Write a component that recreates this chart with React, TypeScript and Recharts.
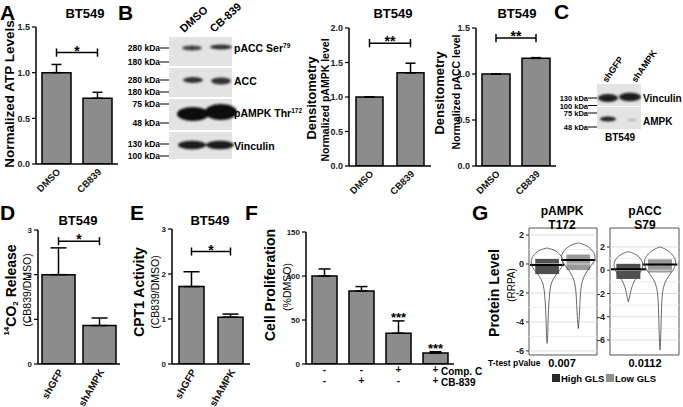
import React from 'react';
import {
  ComposedChart, Bar, XAxis, YAxis, ErrorBar, ReferenceLine, ReferenceArea, ReferenceDot, Scatter,
} from 'recharts';

const FONT = "'Liberation Sans', Arial, Helvetica, sans-serif";

// ---------- Panel A ----------
const aCats = ['DMSO', 'CB839'];
const aMeans = [1.0, 0.72];
const aSem = [0.09, 0.065];
const aTicks = [0, 0.5, 1.0, 1.5];
const aBracket = 1.22;

// ---------- Panel B ----------
const bCats = ['DMSO', 'CB839'];
const bAmpkMeans = [1.0, 1.35];
const bAmpkSem = [0, 0.14];
const bAmpkTicks = [0, 0.5, 1.0, 1.5, 2.0];
const bAmpkBracket = 1.78;
const bAccMeans = [1.0, 1.17];
const bAccSem = [0, 0.008];
const bAccTicks = [0, 0.5, 1.0, 1.5];
const bAccBracket = 1.39;

// ---------- Panel D / E ----------
const deCats = ['shGFP', 'shAMPK'];
const dMeans = [2.0, 0.86];
const dSem = [0.6, 0.17];
const dBracket = 2.75;
const eMeans = [1.72, 1.04];
const eSem = [0.33, 0.07];
const eBracket = 2.5;
const deTicks = [0, 1, 2, 3];

// ---------- Panel F ----------
const fCats = ['g1', 'g2', 'g3', 'g4'];
const fMeans = [100, 83, 35, 12.5];
const fSem = [8, 5, 14, 1.5];
const fCompC = ['-', '-', '+', '+'];
const fCb839 = ['-', '+', '-', '+'];
const fStars = ['', '', '***', '***'];
const fTicks = [0, 50, 100, 150];

// ---------- Panel G ----------
const gMajor = [2, 0, -2, -4, -6];
const gMinor = [1, -1, -3, -5];
// violin outlines: y positions and half widths
const gAmpkHighY = [1.1, 1.0, 0.8, 0.5, 0.2, -0.1, -0.4, -0.7, -1.0, -1.4, -2.0, -2.6, -3.2, -4.0, -5.0, -5.5];
const gAmpkHighW = [0, 0.2, 0.36, 0.47, 0.52, 0.5, 0.42, 0.3, 0.2, 0.12, 0.08, 0.06, 0.045, 0.03, 0.02, 0];
const gAmpkLowY = [1.45, 1.35, 1.1, 0.8, 0.5, 0.2, -0.1, -0.5, -0.9, -1.4, -2.0, -2.8, -3.6, -4.5];
const gAmpkLowW = [0, 0.2, 0.38, 0.5, 0.55, 0.52, 0.42, 0.28, 0.17, 0.1, 0.07, 0.05, 0.035, 0];
const gAccHighY = [1.6, 1.45, 1.2, 0.9, 0.5, 0.2, -0.2, -0.6, -1.0, -1.5, -2.0, -2.4, -2.75];
const gAccHighW = [0, 0.18, 0.32, 0.42, 0.46, 0.45, 0.38, 0.27, 0.17, 0.1, 0.06, 0.03, 0];
const gAccLowY = [2.0, 1.85, 1.6, 1.2, 0.8, 0.4, 0.0, -0.4, -0.8, -1.3, -2.0, -3.0, -4.0, -5.0, -6.0, -6.9];
const gAccLowW = [0, 0.15, 0.3, 0.44, 0.5, 0.49, 0.42, 0.3, 0.2, 0.12, 0.07, 0.05, 0.04, 0.03, 0.02, 0];
// boxes [low, high, median]
const gAmpkHighBox = [-0.7, 0.35, -0.08];
const gAmpkLowBox = [-0.42, 0.65, 0.28];
const gAccHighBox = [-0.75, 0.55, 0.08];
const gAccLowBox = [-0.2, 0.95, 0.5];
const gPvalues = ['0.007', '0.0112'];
const gLegend = ['High GLS', 'Low GLS'];

const rows = (cats: string[], means: number[], sem: number[]) =>
  cats.map((name, i) => ({ name, value: means[i], err: [0, sem[i]] as [number, number] }));

const rotTick = (angle: number, fs: number) => (props: any) => {
  const { x, y, payload } = props;
  const ax = x + 2;
  const ay = y + 4;
  return (
    <text x={ax} y={ay} transform={`rotate(${angle} ${ax} ${ay})`} textAnchor="end" dominantBaseline="central"
      fontSize={fs} fontWeight="bold" fontFamily={FONT} fill="#111">{payload.value}</text>
  );
};

const fTick = (props: any) => {
  const { x, y, index } = props;
  return (
    <g fontFamily={FONT} fontWeight="bold" fontSize={10} fill="#111">
      <text x={x} y={y + 7} textAnchor="middle">{fCompC[index]}</text>
      <text x={x} y={y + 18} textAnchor="middle">{fCb839[index]}</text>
    </g>
  );
};

type BarPanelProps = {
  px: number; py: number; pw: number; ph: number;
  domain: [number, number]; ticks: number[]; fmt: (v: number) => string;
  data: any[]; barSize: number; capW: number; tick: any; xH: number;
  bracket?: { y: number; d: number; a: string; b: string; label: string };
  stars?: string[]; tickFs?: number;
};

function BarPanel(p: BarPanelProps) {
  const yW = 32;
  const mt = 10;
  const mr = 6;
  return (
    <div style={{ position: 'absolute', left: p.px - yW, top: p.py - mt }}>
      <ComposedChart width={yW + p.pw + mr} height={mt + p.ph + p.xH} data={p.data}
        margin={{ top: mt, right: mr, left: 0, bottom: 0 }} barCategoryGap={0}>
        <XAxis dataKey="name" type="category" height={p.xH} interval={0}
          axisLine={{ stroke: '#000', strokeWidth: 1.5 }} tickLine={false} tickSize={0} tick={p.tick} />
        <YAxis width={yW} domain={p.domain} ticks={p.ticks} tickFormatter={p.fmt} interval={0} allowDataOverflow
          axisLine={{ stroke: '#000', strokeWidth: 1.5 }} tickLine={{ stroke: '#000', strokeWidth: 1.2 }} tickSize={4}
          tick={{ fill: '#222', fontSize: p.tickFs || 9, fontWeight: 'bold', fontFamily: FONT }} />
        <Bar dataKey="value" fill="#8c8c8c" stroke="#000" strokeWidth={1.5} barSize={p.barSize} isAnimationActive={false}>
          <ErrorBar dataKey="err" width={p.capW} stroke="#000" strokeWidth={1.5} direction="y" />
        </Bar>
        {p.bracket && (
          <ReferenceLine segment={[{ x: p.bracket.a, y: p.bracket.y }, { x: p.bracket.b, y: p.bracket.y }]}
            stroke="#000" strokeWidth={1.5}
            label={{ value: p.bracket.label, position: 'top', offset: -3, fill: '#000', fontSize: 14, fontWeight: 'bold', fontFamily: FONT }} />
        )}
        {p.bracket && (
          <ReferenceLine segment={[{ x: p.bracket.a, y: p.bracket.y - p.bracket.d }, { x: p.bracket.a, y: p.bracket.y + p.bracket.d }]}
            stroke="#000" strokeWidth={1.5} />
        )}
        {p.bracket && (
          <ReferenceLine segment={[{ x: p.bracket.b, y: p.bracket.y - p.bracket.d }, { x: p.bracket.b, y: p.bracket.y + p.bracket.d }]}
            stroke="#000" strokeWidth={1.5} />
        )}
        {p.stars && p.data.map((r, i) => p.stars![i] ? (
          <ReferenceDot key={r.name} x={r.name} y={r.value + r.err[1]} r={0} stroke="none" fill="none"
            label={{ value: p.stars![i], position: 'top', offset: -1, fill: '#000', fontSize: 13, fontWeight: 'bold', fontFamily: FONT }} />
        ) : null)}
      </ComposedChart>
    </div>
  );
}

const violinPoints = (c: number, ys: number[], ws: number[]) => {
  const right = ys.map((y, i) => ({ x: c + ws[i], y }));
  const left = ys.map((y, i) => ({ x: c - ws[i], y })).reverse();
  return [...right, ...left];
};

type ViolinProps = {
  px: number; py: number; pw: number; ph: number; domain: [number, number];
  hiY: number[]; hiW: number[]; loY: number[]; loW: number[]; hiBox: number[]; loBox: number[];
};

const X_DOM: [number, number] = [0.42, 2.6];

function ViolinPanel(p: ViolinProps) {
  const yW = 16;
  const mt = 4;
  const bh = 0.38;
  const mh = 0.55;
  return (
    <div style={{ position: 'absolute', left: p.px - yW, top: p.py - mt }}>
      <ComposedChart width={yW + p.pw + 2} height={p.ph + mt * 2} margin={{ top: mt, right: 2, left: 0, bottom: mt }}>
        <XAxis type="number" dataKey="x" domain={X_DOM} hide allowDataOverflow />
        <YAxis type="number" dataKey="y" domain={p.domain} ticks={gMajor} interval={0} width={yW} allowDataOverflow
          axisLine={false} tickLine={{ stroke: '#333' }} tickSize={3}
          tick={{ fill: '#222', fontSize: 9, fontWeight: 'bold', fontFamily: FONT }} />
        {gMinor.map((v) => <ReferenceLine key={'mi' + v} y={v} stroke="#eeeeee" strokeWidth={1} />)}
        {gMajor.map((v) => <ReferenceLine key={'ma' + v} y={v} stroke="#dddddd" strokeWidth={1} />)}
        <ReferenceArea x1={X_DOM[0]} x2={X_DOM[1]} y1={p.domain[0]} y2={p.domain[1]} fill="none" stroke="#555" strokeWidth={1} fillOpacity={0} />
        <Scatter data={violinPoints(1, p.hiY, p.hiW)} line={{ stroke: '#444', strokeWidth: 0.8 }} lineJointType="basis"
          shape={() => <g />} isAnimationActive={false} legendType="none" />
        <Scatter data={violinPoints(2, p.loY, p.loW)} line={{ stroke: '#444', strokeWidth: 0.8 }} lineJointType="basis"
          shape={() => <g />} isAnimationActive={false} legendType="none" />
        <ReferenceArea x1={1 - bh} x2={1 + bh} y1={p.hiBox[0]} y2={p.hiBox[1]} fill="#3c3c3c" fillOpacity={0.9} stroke="none" />
        <ReferenceArea x1={2 - bh} x2={2 + bh} y1={p.loBox[0]} y2={p.loBox[1]} fill="#8e8e8e" fillOpacity={0.9} stroke="none" />
        <ReferenceLine segment={[{ x: 1 - mh, y: p.hiBox[2] }, { x: 1 + mh, y: p.hiBox[2] }]} stroke="#000" strokeWidth={2} />
        <ReferenceLine segment={[{ x: 2 - mh, y: p.loBox[2] }, { x: 2 + mh, y: p.loBox[2] }]} stroke="#000" strokeWidth={2} />
      </ComposedChart>
    </div>
  );
}

const VLabel = ({ cx, cy, fs, w = 'bold', children }: any) => (
  <text transform={`translate(${cx},${cy}) rotate(-90)`} textAnchor="middle" dominantBaseline="central"
    fontSize={fs} fontWeight={w} fontFamily={FONT} fill="#000">{children}</text>
);

const L = ({ x, y, fs = 9, w = 'bold', a = 'start', fill = '#000', children, rot }: any) => (
  <text x={x} y={y} fontSize={fs} fontWeight={w} textAnchor={a} fontFamily={FONT} fill={fill}
    transform={rot !== undefined ? `rotate(${rot} ${x} ${y})` : undefined}>{children}</text>
);

const Kda = ({ x, y, t, fs = 8.5 }: any) => (
  <g>
    <L x={x - 9} y={y + 3} fs={fs} a="end">{t}</L>
    <line x1={x - 9} y1={y} x2={x} y2={y} stroke="#000" strokeWidth={1} />
  </g>
);

function Overlay() {
  return (
    <svg width={683} height={407} style={{ position: 'absolute', left: 0, top: 0, pointerEvents: 'none' }}>
      <defs>
        <filter id="bl" x="-50%" y="-50%" width="200%" height="200%"><feGaussianBlur stdDeviation="1.1" /></filter>
      </defs>
      {/* panel letters */}
      <L x={0} y={20} fs={21}>A</L>
      <L x={118} y={20} fs={21}>B</L>
      <L x={554} y={19} fs={21}>C</L>
      <L x={0} y={220} fs={21}>D</L>
      <L x={130} y={220} fs={21}>E</L>
      <L x={245} y={220} fs={21}>F</L>
      <L x={472} y={220} fs={21}>G</L>
      {/* titles */}
      <L x={85} y={18} fs={13} a="middle">BT549</L>
      <L x={393} y={18} fs={13} a="middle">BT549</L>
      <L x={517} y={18} fs={13} a="middle">BT549</L>
      <L x={78} y={225} fs={13} a="middle">BT549</L>
      <L x={210} y={225} fs={13} a="middle">BT549</L>
      {/* y labels */}
      <VLabel cx={9} cy={94} fs={13.5}>Normalized ATP Levels</VLabel>
      <VLabel cx={311} cy={98} fs={13}>Densitometry</VLabel>
      <VLabel cx={325} cy={100} fs={10.5}>Normalized pAMPK level</VLabel>
      <VLabel cx={439} cy={93} fs={13}>Densitometry</VLabel>
      <VLabel cx={456} cy={92} fs={10.5}>Normalized pACC level</VLabel>
      <text transform="translate(11,290) rotate(-90)" textAnchor="middle" dominantBaseline="central" fontFamily={FONT} fontWeight="bold" fontSize={14}>
        <tspan fontSize={8} dy={-5}>14</tspan><tspan dy={5}>CO</tspan><tspan fontSize={8} dy={4}>2</tspan><tspan dy={-4}> Release</tspan>
      </text>
      <VLabel cx={27} cy={290} fs={10.5} w="normal">(CB839/DMSO)</VLabel>
      <VLabel cx={139} cy={292} fs={14}>CPT1 Activity</VLabel>
      <VLabel cx={155} cy={292} fs={10.5} w="normal">(CB839/DMSO)</VLabel>
      <VLabel cx={270} cy={285} fs={14}>Cell Proliferation</VLabel>
      <VLabel cx={287} cy={287} fs={10.5} w="normal">(%DMSO)</VLabel>
      <VLabel cx={494} cy={293} fs={14}>Protein Level</VLabel>
      <VLabel cx={511} cy={285} fs={10} w="normal">(RRPA)</VLabel>

      {/* B blot */}
      <L x={184} y={33} fs={11} rot={-42}>DMSO</L>
      <L x={214} y={33} fs={11} rot={-42}>CB-839</L>
      <rect x={169} y={37} width={63} height={29} fill="#e3e3e3" />
      <rect x={169} y={68} width={63} height={29} fill="#e3e3e3" />
      <rect x={169} y={99} width={63} height={31} fill="#e3e3e3" />
      <rect x={169} y={132} width={63} height={27} fill="#e3e3e3" />
      <g filter="url(#bl)">
        <ellipse cx={192} cy={48} rx={10} ry={2.4} fill="#444" />
        <ellipse cx={221} cy={47} rx={11} ry={2.6} fill="#333" />
        <ellipse cx={193} cy={80} rx={10} ry={3} fill="#333" />
        <ellipse cx={221} cy={81} rx={10} ry={3.4} fill="#333" />
        <ellipse cx={193} cy={114} rx={16} ry={7} fill="#111" />
        <ellipse cx={221} cy={112} rx={16} ry={8} fill="#111" />
        <ellipse cx={192} cy={145} rx={14} ry={4.2} fill="#1a1a1a" />
        <ellipse cx={220} cy={145} rx={14} ry={4.2} fill="#1a1a1a" />
      </g>
      <Kda x={169} y={48} t="280 kDa" />
      <Kda x={169} y={62} t="180 kDa" />
      <Kda x={169} y={80} t="280 kDa" />
      <Kda x={169} y={92} t="180 kDa" />
      <Kda x={169} y={104} t="75 kDa" />
      <Kda x={169} y={123} t="48 kDa" />
      <Kda x={169} y={144} t="130 kDa" />
      <Kda x={169} y={156} t="100 kDa" />
      <text x={234} y={52} fontFamily={FONT} fontWeight="bold" fontSize={10.5}>pACC Ser<tspan fontSize={6.5} dy={-4}>79</tspan></text>
      <L x={234} y={85} fs={10.5}>ACC</L>
      <text x={234} y={117} fontFamily={FONT} fontWeight="bold" fontSize={10.5}>pAMPK Thr<tspan fontSize={6.5} dy={-4}>172</tspan></text>
      <L x={234} y={150} fs={10.5}>Vinculin</L>

      {/* C blot */}
      <L x={607} y={83} fs={9} rot={-55}>shGFP</L>
      <L x={636} y={83} fs={9} rot={-55}>shAMPK</L>
      <rect x={597} y={84} width={44} height={22} fill="#e3e3e3" />
      <rect x={597} y={107} width={44} height={22} fill="#e3e3e3" />
      <g filter="url(#bl)">
        <ellipse cx={608} cy={98} rx={10} ry={4} fill="#1a1a1a" />
        <ellipse cx={630} cy={97} rx={11} ry={4.2} fill="#1a1a1a" />
        <ellipse cx={608} cy={119} rx={8} ry={2.4} fill="#222" />
        <ellipse cx={632} cy={120} rx={4} ry={1} fill="#aaa" />
      </g>
      <Kda x={597} y={98} t="130 kDa" fs={7.5} />
      <Kda x={597} y={105.5} t="100 kDa" fs={7.5} />
      <Kda x={597} y={113} t="75 kDa" fs={7.5} />
      <Kda x={597} y={127} t="48 kDa" fs={7.5} />
      <L x={643} y={102} fs={10}>Vinculin</L>
      <L x={643} y={125} fs={10}>AMPK</L>
      <L x={620} y={141} fs={10} a="middle">BT549</L>

      {/* F row labels */}
      <L x={441} y={375} fs={10}>Comp. C</L>
      <L x={441} y={386} fs={10}>CB-839</L>

      {/* G annotations */}
      <L x={562} y={215} fs={12} a="middle">pAMPK</L>
      <L x={562} y={229} fs={12} a="middle">T172</L>
      <L x={645} y={215} fs={12} a="middle">pACC</L>
      <L x={645} y={229} fs={12} a="middle">S79</L>
      <L x={488} y={366} fs={8.5}>T-test pValue</L>
      <L x={562} y={367} fs={11} a="middle">{gPvalues[0]}</L>
      <L x={645} y={367} fs={11} a="middle">{gPvalues[1]}</L>
      <rect x={552} y={374} width={8} height={8} fill="#2a2a2a" />
      <L x={561} y={382} fs={9.5}>{gLegend[0]}</L>
      <rect x={606} y={374} width={8} height={8} fill="#8e8e8e" />
      <L x={615} y={382} fs={9.5}>{gLegend[1]}</L>
    </svg>
  );
}

const f1 = (v: number) => v.toFixed(1);
const f0 = (v: number) => String(v);

export default function App() {
  return (
    <div style={{ position: 'absolute', left: 0, top: 0, width: 683, height: 407, background: '#fff', overflow: 'hidden', fontFamily: FONT }}>
      <BarPanel px={36} py={27} pw={82} ph={137} domain={[0, 1.5]} ticks={aTicks} fmt={f1}
        data={rows(aCats, aMeans, aSem)} barSize={29} capW={5} tick={rotTick(-45, 9.5)} xH={45}
        bracket={{ y: aBracket, d: 0.045, a: aCats[0], b: aCats[1], label: '*' }} />
      <BarPanel px={349} py={28} pw={82} ph={138} domain={[0, 2]} ticks={bAmpkTicks} fmt={f1}
        data={rows(bCats, bAmpkMeans, bAmpkSem)} barSize={27} capW={5} tick={rotTick(-45, 9.5)} xH={45}
        bracket={{ y: bAmpkBracket, d: 0.06, a: bCats[0], b: bCats[1], label: '**' }} />
      <BarPanel px={476} py={28} pw={80} ph={138} domain={[0, 1.5]} ticks={bAccTicks} fmt={f1}
        data={rows(bCats, bAccMeans, bAccSem)} barSize={28} capW={5} tick={rotTick(-45, 9.5)} xH={45}
        bracket={{ y: bAccBracket, d: 0.045, a: bCats[0], b: bCats[1], label: '**' }} />
      <BarPanel px={38} py={230} pw={82} ph={134} domain={[0, 3]} ticks={deTicks} fmt={f0} tickFs={8}
        data={rows(deCats, dMeans, dSem)} barSize={33} capW={8} tick={rotTick(-60, 10)} xH={43}
        bracket={{ y: dBracket, d: 0.09, a: deCats[0], b: deCats[1], label: '*' }} />
      <BarPanel px={172} py={229} pw={78} ph={135} domain={[0, 3]} ticks={deTicks} fmt={f0} tickFs={8}
        data={rows(deCats, eMeans, eSem)} barSize={25} capW={8} tick={rotTick(-60, 10)} xH={43}
        bracket={{ y: eBracket, d: 0.09, a: deCats[0], b: deCats[1], label: '*' }} />
      <BarPanel px={306} py={232} pw={148} ph={132} domain={[0, 150]} ticks={fTicks} fmt={f0} tickFs={8}
        data={rows(fCats, fMeans, fSem)} barSize={25} capW={6} tick={fTick} xH={40} stars={fStars} />
      <ViolinPanel px={529} py={228} pw={68} ph={127} domain={[-6.28, 2.48]}
        hiY={gAmpkHighY} hiW={gAmpkHighW} loY={gAmpkLowY} loW={gAmpkLowW} hiBox={gAmpkHighBox} loBox={gAmpkLowBox} />
      <ViolinPanel px={610} py={228} pw={69} ph={127} domain={[-7.29, 3.63]}
        hiY={gAccHighY} hiW={gAccHighW} loY={gAccLowY} loW={gAccLowW} hiBox={gAccHighBox} loBox={gAccLowBox} />
      <Overlay />
    </div>
  );
}
